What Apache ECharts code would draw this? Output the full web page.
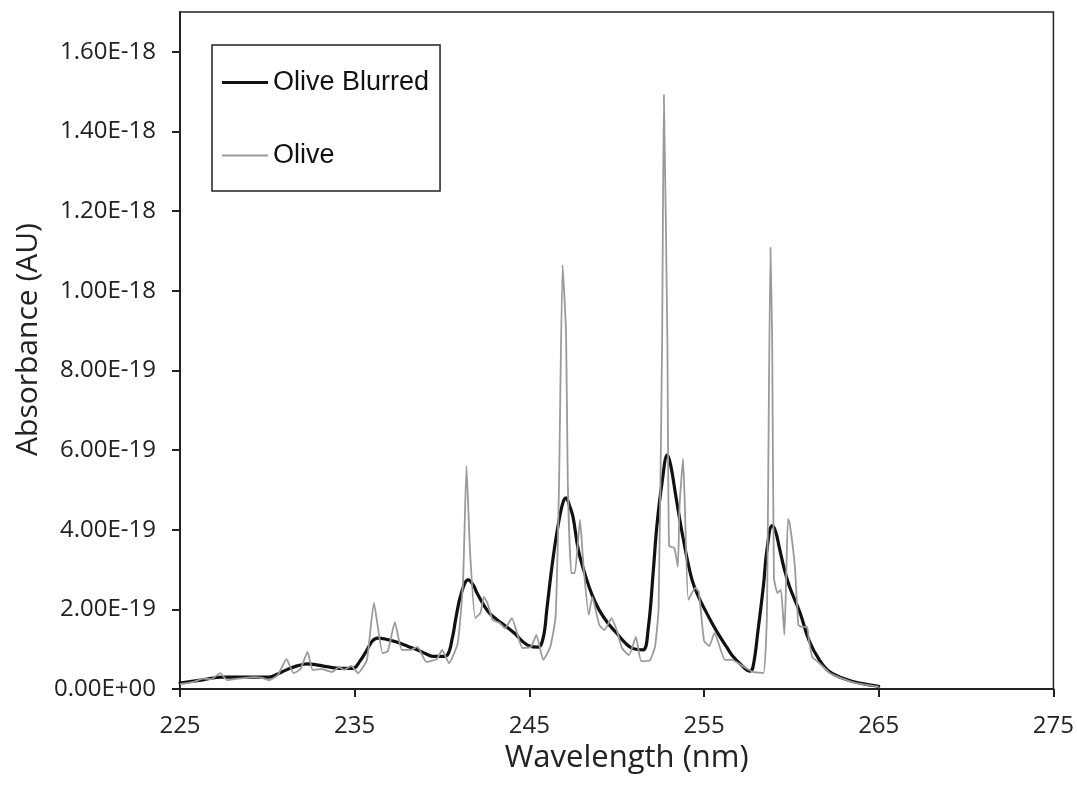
<!DOCTYPE html>
<html>
<head>
<meta charset="utf-8">
<script src="https://cdn.jsdelivr.net/npm/echarts@6/dist/echarts.min.js"></script>
<style>
html,body{margin:0;padding:0;background:#fff;}
#chart{width:1077px;height:785px;}
</style>
</head>
<body>
<div id="chart"></div>
<script>
// Wavelength (nm) and absorbance in units of 1e-19 AU
const oliveX = [225.0,225.8,226.3,226.8,227.3,227.7,228.3,229.2,229.7,230.1,230.6,231.1,231.5,231.9,232.3,232.6,233.1,233.7,234.1,234.4,234.8,235.2,235.7,236.1,236.6,236.9,237.3,237.7,238.2,238.6,239.1,239.7,240.0,240.4,240.9,241.2,241.4,241.6,241.9,242.2,242.4,242.6,242.9,243.3,243.6,244.0,244.3,244.6,245.1,245.4,245.8,246.2,246.5,246.7,246.9,247.1,247.2,247.4,247.6,247.9,248.1,248.4,248.6,249.0,249.3,249.7,250.0,250.3,250.7,251.1,251.4,251.9,252.2,252.4,252.6,252.7,252.9,253.0,253.3,253.5,253.6,253.8,253.9,254.1,254.5,254.7,255.0,255.3,255.6,256.2,256.6,257.2,257.8,258.4,258.6,258.8,258.9,259.0,259.2,259.4,259.6,259.7,259.8,259.9,260.2,260.4,260.6,260.9,261.0,261.2,261.6,262.2,262.8,263.7,265.0];
const oliveY = [0.12,0.18,0.26,0.25,0.40,0.22,0.26,0.30,0.28,0.22,0.35,0.75,0.40,0.50,0.93,0.48,0.50,0.43,0.55,0.48,0.58,0.40,0.73,2.16,0.90,0.95,1.68,0.98,0.98,1.06,0.68,0.75,0.98,0.65,1.15,2.66,5.60,3.49,1.78,1.91,2.31,2.16,1.73,1.66,1.53,1.78,1.40,1.03,1.06,1.36,0.73,1.06,1.81,5.18,10.65,8.94,5.18,2.91,2.91,4.25,3.07,1.86,2.31,1.61,1.48,1.78,1.48,1.03,0.85,1.31,0.70,0.72,1.08,2.04,8.77,14.92,8.77,3.59,3.54,3.07,4.62,5.78,4.62,2.24,2.54,2.44,1.21,1.08,1.41,0.73,0.73,0.58,0.43,0.40,1.90,11.08,8.77,2.80,2.41,2.49,1.36,2.74,4.27,4.17,3.07,1.61,1.56,1.56,1.23,0.80,0.65,0.40,0.28,0.15,0.06];

const blurX = [225.0,226.3,227.4,228.5,230.1,230.6,231.1,231.7,232.3,232.9,233.4,234.2,234.9,235.3,235.7,236.0,236.3,236.8,237.4,238.0,238.6,239.1,239.5,240.0,240.3,240.6,240.8,241.1,241.5,241.8,242.0,242.4,242.7,243.2,243.7,244.2,244.6,245.0,245.5,245.8,246.0,246.3,246.6,246.9,247.1,247.3,247.5,247.8,248.2,248.6,249.0,249.5,250.0,250.5,250.9,251.5,251.8,252.1,252.3,252.6,252.9,253.1,253.4,253.8,254.3,254.7,255.1,255.5,255.9,256.3,256.6,257.1,257.6,257.8,258.1,258.4,258.6,258.9,259.1,259.3,259.6,259.9,260.5,261.0,261.6,262.2,263.2,264.0,265.0];
const blurY = [0.15,0.23,0.30,0.30,0.30,0.38,0.48,0.58,0.63,0.60,0.56,0.52,0.52,0.70,0.98,1.20,1.28,1.25,1.18,1.08,0.98,0.88,0.82,0.82,0.85,1.30,1.80,2.40,2.74,2.60,2.41,2.10,1.91,1.72,1.56,1.38,1.20,1.08,1.05,1.30,2.00,3.10,3.99,4.65,4.80,4.60,4.32,3.50,2.86,2.35,1.98,1.65,1.40,1.15,1.02,0.98,1.50,3.00,4.10,5.20,5.88,5.60,4.80,3.79,2.76,2.30,1.95,1.62,1.32,1.05,0.85,0.62,0.45,0.55,1.51,2.60,3.49,4.10,3.95,3.57,3.00,2.56,1.91,1.23,0.73,0.43,0.23,0.14,0.07];

const xTicks = [225,235,245,255,265,275];
const yTicks = [0,2,4,6,8,10,12,14,16];
const seriesNames = ['Olive Blurred','Olive'];

function fmtE(v){
  const s = (v*1e-19).toExponential(2).toUpperCase();
  const m = s.match(/^(-?[\d.]+)E([+-])(\d+)$/);
  if(!m) return s;
  return m[1]+'E'+m[2]+(m[3].length<2?'0'+m[3]:m[3]);
}

const chart = echarts.init(document.getElementById('chart'), null, {renderer:'canvas'});
const tickFont = {fontFamily:'Open Sans', fontSize:24, color:'#222'};
chart.setOption({
  animation:false,
  backgroundColor:'#fff',
  grid:{left:180, right:23, top:12, bottom:96, show:true, borderColor:'#222', borderWidth:1.5, containLabel:false},
  legend:{
    orient:'vertical', left:212, top:45,
    data:[
      {name:seriesNames[0], icon:'path://M0,0H46V3H0Z'},
      {name:seriesNames[1], icon:'path://M0,0H46V2H0Z'}
    ],
    itemWidth:46, itemHeight:27, itemGap:46,
    itemStyle:{borderWidth:0},
    padding:[24,11,22,10],
    borderColor:'#222', borderWidth:1.5,
    textStyle:{fontFamily:'Liberation Sans', fontSize:27, color:'#111'}
  },
  xAxis:{
    type:'value', min:225, max:275,
    name:'Wavelength (nm)', nameLocation:'middle', nameGap:54,
    nameTextStyle:{fontFamily:'Open Sans', fontSize:31, color:'#222', padding:[0,0,0,20]},
    axisLine:{show:true, lineStyle:{color:'#222', width:2}},
    axisTick:{show:true, length:8, lineStyle:{color:'#222', width:2}, customValues:xTicks},
    axisLabel:Object.assign({customValues:xTicks, margin:25}, tickFont),
    splitLine:{show:false}
  },
  yAxis:{
    type:'value', min:0, max:17,
    name:'Absorbance (AU)', nameLocation:'middle', nameGap:135,
    nameTextStyle:{fontFamily:'Open Sans', fontSize:30, color:'#222', padding:[0,0,0,22]},
    axisLine:{show:true, lineStyle:{color:'#222', width:2}},
    axisTick:{show:true, length:8, lineStyle:{color:'#222', width:2}, customValues:yTicks},
    axisLabel:Object.assign({customValues:yTicks, margin:24, formatter:fmtE}, tickFont),
    splitLine:{show:false}
  },
  series:[
    {
      name:'Olive Blurred', type:'line', symbol:'none', smooth:0.4,
      lineStyle:{color:'#111', width:3.2, join:'round', cap:'round'}, itemStyle:{color:'#111'},
      data: blurX.map((x,i)=>[x, blurY[i]]), z:2
    },
    {
      name:'Olive', type:'line', symbol:'none', smooth:0.15,
      lineStyle:{color:'#9a9a9a', width:1.8, join:'round'}, itemStyle:{color:'#9a9a9a'},
      data: oliveX.map((x,i)=>[x, oliveY[i]]), z:3
    }
  ]
});
</script>
</body>
</html>
